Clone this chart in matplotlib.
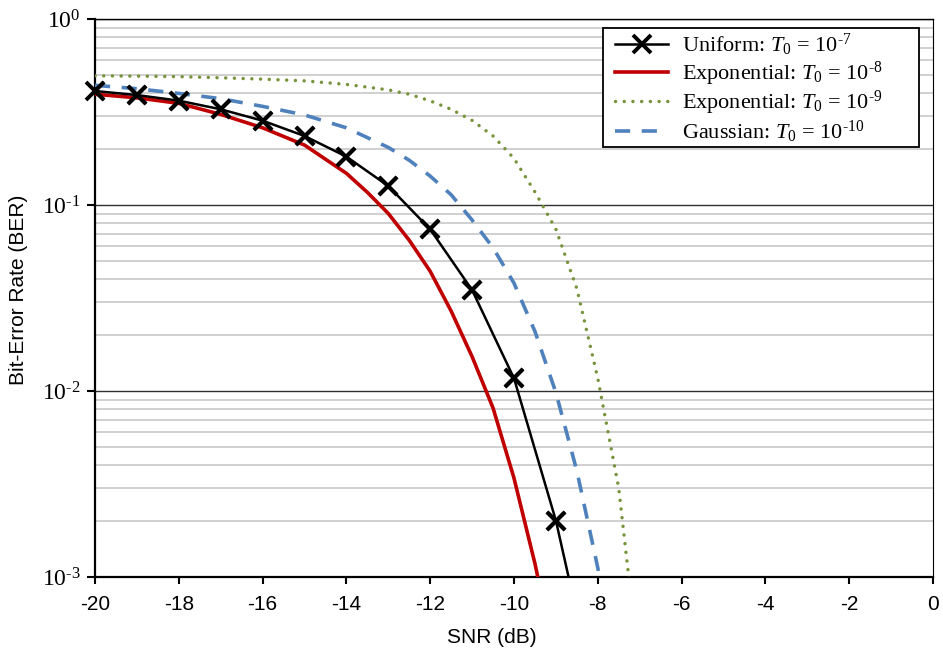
import numpy as np
import matplotlib
matplotlib.use('Agg')
import matplotlib.pyplot as plt
from matplotlib.patches import Rectangle
from matplotlib.ticker import LogLocator, NullFormatter, FixedLocator, FixedFormatter

# BER vs SNR for the different T0 distributions
snr_uniform = [-20, -19, -18, -17, -16, -15, -14, -13, -12, -11, -10, -9, -8]
ber_uniform = [0.41, 0.39, 0.364, 0.327, 0.284, 0.235, 0.182, 0.1265, 0.074,
               0.0349, 0.0117, 0.00201, 0.0002]

snr_exp8 = [-20, -19, -18, -17, -16, -15, -14, -13.5, -13, -12.5, -12, -11.5,
            -11, -10.5, -10, -9.5, -9]
ber_exp8 = [0.394, 0.377, 0.352, 0.307, 0.26, 0.21, 0.148, 0.117, 0.090, 0.0646,
            0.044, 0.0269, 0.0153, 0.0081, 0.0034, 0.00118, 0.00035]

snr_exp9 = [-20, -19, -18, -17, -16, -15, -14, -13, -12.5, -12, -11.5, -11,
            -10.5, -10, -9.5, -9, -8.5, -8, -7.5, -7]
ber_exp9 = [0.495, 0.493, 0.49, 0.483, 0.475, 0.465, 0.445, 0.416, 0.394, 0.363,
            0.327, 0.285, 0.235, 0.178, 0.1175, 0.0741, 0.0355, 0.0117, 0.003, 0.0003]

snr_gauss = [-20, -19, -18, -17, -16, -15, -14, -13, -12.5, -12, -11.5, -11,
             -10.5, -10, -9.5, -9, -8.5, -8, -7.5]
ber_gauss = [0.44, 0.422, 0.398, 0.373, 0.339, 0.305, 0.26, 0.204, 0.174, 0.143,
             0.1135, 0.083, 0.0589, 0.038, 0.0209, 0.0098, 0.00372, 0.00112, 0.00025]

n_markers = 12  # markers only on -20 .. -9

x_ticks = list(range(-20, 1, 2))
y_ticks = [1e-3, 1e-2, 1e-1, 1e0]
y_tick_labels = [r'$10^{‐3}$', r'$10^{‐2}$', r'$10^{‐1}$', r'$10^{0}$']

labels = [r'Uniform: $T_0$ = 10$^{‐7}$',
          r'Exponential: $T_0$ = 10$^{‐8}$',
          r'Exponential: $T_0$ = 10$^{‐9}$',
          r'Gaussian: $T_0$ = 10$^{‐10}$']

plt.rcParams['font.family'] = ['Liberation Sans', 'DejaVu Sans']
plt.rcParams['mathtext.fontset'] = 'custom'
plt.rcParams['mathtext.rm'] = 'Liberation Serif'
plt.rcParams['mathtext.it'] = 'Liberation Serif:italic'
plt.rcParams['mathtext.bf'] = 'Liberation Serif:bold'
plt.rcParams['axes.unicode_minus'] = False

W, H = 943, 660
fig = plt.figure(figsize=(W / 100, H / 100), dpi=100)
x0, x1, y0, y1 = 95, 933, 19, 577
ax = fig.add_axes([x0 / W, 1 - y1 / H, (x1 - x0) / W, (y1 - y0) / H])


def ax_coords(px, py):
    """pixel position -> axes fraction"""
    return (px - x0) / (x1 - x0), (y1 - py) / (y1 - y0)


# curves
ax.plot(snr_uniform, ber_uniform, color='black', lw=1.8, marker='x', ms=13, mew=2.8,
        markevery=slice(0, n_markers), label=labels[0], zorder=6)
ax.plot(snr_uniform[:n_markers], ber_uniform[:n_markers], ls='none', marker='x',
        ms=13, mew=2.8, color='black', clip_on=False, zorder=7)
ax.plot(snr_exp8, ber_exp8, color='#c00000', lw=2.6, label=labels[1], zorder=5)
ax.plot(snr_exp9, ber_exp9, color='#77933c', lw=2.5, linestyle=(0, (0.01, 2.5)),
        dash_capstyle='round', label=labels[2], zorder=3)
ax.plot(snr_gauss, ber_gauss, color='#4f81bd', lw=2.6, linestyle=(0, (4.2, 3.2)),
        label=labels[3], zorder=4)

ax.set_yscale('log')
ax.set_xlim(-20, 0)
ax.set_ylim(1e-3, 1)

ax.xaxis.set_major_locator(FixedLocator(x_ticks))
ax.yaxis.set_major_locator(FixedLocator(y_ticks))
ax.yaxis.set_major_formatter(FixedFormatter(y_tick_labels))
ax.yaxis.set_minor_locator(LogLocator(base=10, subs=np.arange(2, 10), numticks=20))
ax.yaxis.set_minor_formatter(NullFormatter())

ax.set_axisbelow(True)
ax.yaxis.grid(True, which='minor', color='#c8c8c8', lw=1.2)
ax.yaxis.grid(True, which='major', color='#303030', lw=1.0)

ax.tick_params(axis='x', which='major', direction='out', length=5, width=1.5,
               labelsize=15, pad=8)
ax.tick_params(axis='y', which='major', direction='out', length=5.5, width=1.5,
               labelsize=17, pad=5)
ax.tick_params(axis='y', which='minor', length=0)

for side in ['left', 'bottom']:
    ax.spines[side].set_linewidth(1.6)
ax.spines['top'].set_linewidth(1.0)
ax.spines['right'].set_linewidth(0.8)

ax.set_xlabel('SNR (dB)', fontsize=15)
ax.xaxis.set_label_coords(*ax_coords(492, 628))
ax.set_ylabel('Bit-Error Rate (BER)', fontsize=15)
ax.yaxis.set_label_coords(*ax_coords(28, 290))

# legend: box drawn separately so its padding can be set freely
bx, by = ax_coords(603, 147)
bw = (919 - 603) / (x1 - x0)
bh = (147 - 28) / (y1 - y0)
ax.add_patch(Rectangle((bx, by), bw, bh, transform=ax.transAxes, facecolor='white',
                       edgecolor='black', lw=1.3, zorder=8))
leg = ax.legend(loc='upper left', bbox_to_anchor=ax_coords(615, 32),
                borderaxespad=0, borderpad=0, frameon=False,
                prop={'family': 'Liberation Serif', 'size': 16},
                handlelength=2.4, handletextpad=0.6, labelspacing=0.06)
leg.set_zorder(9)

fig.savefig('out.png', dpi=100)
